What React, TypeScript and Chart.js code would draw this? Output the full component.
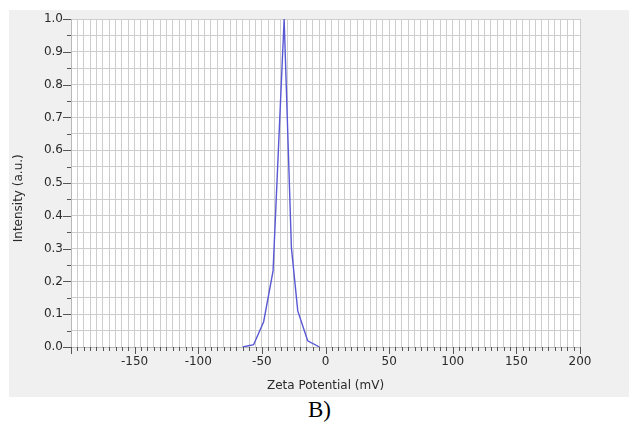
import React, { useEffect, useRef } from 'react';
import { Chart, registerables } from 'chart.js';

Chart.register(...registerables);

// Data
const zetaMv = [-65, -56.5, -48.6, -41.2, -32.5, -26.8, -21.8, -14, -4.7];
const intensity = [0, 0.007, 0.077, 0.232, 1.0, 0.303, 0.11, 0.019, 0];

const xMin = -200;
const xMax = 200;
const xStep = 5;
const xLabelEvery = 50;
const yMin = 0;
const yMax = 1;
const yStep = 0.05;

const xTitle = 'Zeta Potential (mV)';
const yTitle = 'Intensity (a.u.)';
const panelLabel = 'B)';

const plotBg = {
  id: 'plotBg',
  beforeDraw(chart: any) {
    const { ctx, chartArea: a } = chart;
    ctx.save();
    ctx.fillStyle = '#ffffff';
    ctx.fillRect(a.left, a.top, a.right - a.left, a.bottom - a.top);
    ctx.restore();
  },
};

const tickMarks = {
  id: 'tickMarks',
  afterDraw(chart: any) {
    const ctx = chart.ctx;
    const xs = chart.scales.x;
    const ys = chart.scales.y;
    ctx.save();
    ctx.strokeStyle = '#555555';
    ctx.lineWidth = 1;
    ctx.beginPath();
    xs.ticks.forEach((t: any) => {
      const px = Math.round(xs.getPixelForValue(t.value)) + 0.5;
      const major = Math.abs(Math.round(t.value) % xLabelEvery) === 0;
      const len = major ? 7 : 4;
      ctx.moveTo(px, xs.top);
      ctx.lineTo(px, xs.top + len);
    });
    ys.ticks.forEach((t: any) => {
      const py = Math.round(ys.getPixelForValue(t.value)) + 0.5;
      const major = Math.round(t.value * 100) % 10 === 0;
      const len = major ? 8 : 4;
      ctx.moveTo(ys.right, py);
      ctx.lineTo(ys.right - len, py);
    });
    ctx.stroke();
    ctx.restore();
  },
};

export default function App() {
  const ref = useRef<HTMLCanvasElement>(null);

  useEffect(() => {
    Chart.defaults.font.family = '"DejaVu Sans", sans-serif';
    Chart.defaults.font.size = 12;
    Chart.defaults.color = '#2a2a2a';
    const chart = new Chart(ref.current as HTMLCanvasElement, {
      type: 'line',
      data: {
        datasets: [
          {
            data: zetaMv.map((x, i) => ({ x, y: intensity[i] })),
            borderColor: '#5858d4',
            borderWidth: 1.4,
            pointRadius: 0,
            tension: 0,
            fill: false,
          },
        ],
      },
      options: {
        animation: false,
        responsive: false,
        devicePixelRatio: 1,
        layout: { padding: { top: 9, right: 49, left: 0, bottom: 0 } },
        plugins: {
          legend: { display: false },
          tooltip: { enabled: false },
        },
        scales: {
          x: {
            type: 'linear',
            min: xMin,
            max: xMax,
            afterFit(scale: any) {
              scale.height = 50;
            },
            ticks: {
              stepSize: xStep,
              autoSkip: false,
              maxRotation: 0,
              minRotation: 0,
              padding: 1,
              color: '#2a2a2a',
              font: { size: 12 },
              callback: (v: any) => {
                const n = Math.round(Number(v));
                return n % xLabelEvery === 0 && n !== xMin ? String(n) : '';
              },
            },
            grid: {
              color: '#cdcdcd',
              lineWidth: 1,
              drawTicks: true,
              tickLength: 7,
              tickColor: 'rgba(0,0,0,0)',
            },
            border: { display: true, color: '#b8b8b8' },
            title: {
              display: true,
              text: xTitle,
              color: '#2a2a2a',
              font: { size: 12 },
              padding: { top: 0, bottom: 4 },
            },
          },
          y: {
            type: 'linear',
            min: yMin,
            max: yMax,
            afterFit(scale: any) {
              scale.width = 62;
            },
            ticks: {
              stepSize: yStep,
              autoSkip: false,
              padding: 0,
              color: '#2a2a2a',
              font: { size: 12 },
              callback: (v: any) => {
                const n = Math.round(Number(v) * 100);
                return n % 10 === 0 ? (n / 100).toFixed(1) : '';
              },
            },
            grid: {
              color: '#cdcdcd',
              lineWidth: 1,
              drawTicks: true,
              tickLength: 8,
              tickColor: 'rgba(0,0,0,0)',
            },
            border: { display: true, color: '#b8b8b8' },
            title: {
              display: true,
              text: yTitle + '        ',
              color: '#2a2a2a',
              font: { size: 12 },
              padding: { top: 3, bottom: 0 },
            },
          },
        },
      },
      plugins: [plotBg, tickMarks],
    } as any);
    return () => chart.destroy();
  }, []);

  return (
    <>
      <div
        style={{
          position: 'absolute',
          left: 9,
          top: 10,
          right: 0,
          height: 387,
          background: '#f0f0f0',
        }}
      >
        <canvas
          ref={ref}
          width={620}
          height={387}
          style={{ display: 'block', width: 620, height: 387 }}
        />
      </div>
      <div
        style={{
          position: 'absolute',
          left: 308,
          top: 397,
          fontFamily: '"Liberation Serif", "Times New Roman", serif',
          fontSize: 23,
          lineHeight: '26px',
          color: '#000000',
        }}
      >
        {panelLabel}
      </div>
    </>
  );
}
